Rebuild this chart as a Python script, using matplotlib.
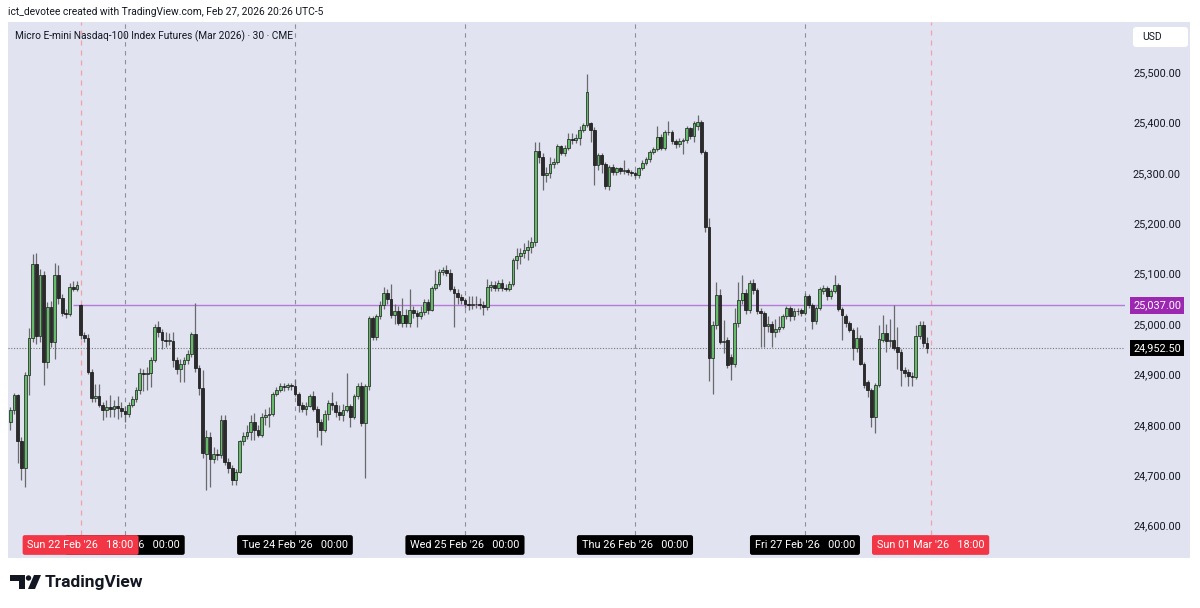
import numpy as np
import matplotlib
matplotlib.use("Agg")
import matplotlib.pyplot as plt
from matplotlib.patches import Rectangle, FancyBboxPatch, Polygon, Circle
from matplotlib.ticker import FuncFormatter

plt.rcParams['font.family'] = ['Roboto', 'DejaVu Sans']

# 30 min bars, Fri 20 Feb 07:30 -> Fri 27 Feb 16:30
opens = [
    24806, 24829, 24859, 24768, 24714, 24899, 24972, 25119, 24976, 25097,
    24925, 25034, 24965, 25097, 25052, 25022, 25020, 25073, 25070, 25038,
    24978, 24972, 24905, 24853, 24858, 24839, 24829, 24835, 24832, 24838,
    24833, 24828, 24822, 24840, 24852, 24870, 24903, 24900, 24902, 24929,
    24994, 24985, 24968, 24966, 24967, 24929, 24910, 24920, 24929, 24940,
    24980, 24913, 24873, 24743, 24776, 24733, 24743, 24740, 24810, 24727,
    24714, 24690, 24707, 24767, 24777, 24786, 24806, 24790, 24780, 24816,
    24820, 24822, 24862, 24869, 24877, 24874, 24878, 24877, 24862, 24840,
    24832, 24838, 24858, 24832, 24806, 24790, 24822, 24844, 24840, 24825,
    24820, 24830, 24837, 24816, 24857, 24877, 24803, 24876, 25011, 24975,
    25015, 25038, 25061, 25050, 25018, 25026, 25002, 25018, 25002, 25028,
    25022, 25016, 25024, 25044, 25028, 25071, 25079, 25104, 25107, 25102,
    25069, 25062, 25054, 25048, 25040, 25038, 25040, 25039, 25037, 25034,
    25074, 25078, 25072, 25082, 25071, 25070, 25080, 25126, 25135, 25140,
    25146, 25152, 25162, 25344, 25332, 25296, 25299, 25317, 25322, 25353,
    25340, 25350, 25368, 25366, 25370, 25384, 25395, 25398, 25385, 25315,
    25335, 25318, 25274, 25312, 25302, 25309, 25303, 25306, 25301, 25299,
    25296, 25309, 25320, 25327, 25342, 25347, 25372, 25350, 25381, 25380,
    25364, 25357, 25364, 25365, 25388, 25373, 25392, 25400, 25342, 25193,
    24932, 24998, 25058, 24965, 24968, 24935, 24920, 25001, 25048, 25062,
    25028, 25082, 25067, 25026, 25021, 24996, 25000, 24985, 24991, 24995,
    25015, 25031, 25015, 25025, 25028, 25022, 25056, 25038, 25005, 25031,
    25066, 25071, 25056, 25066, 25077, 25029, 25016, 25001, 24989, 24952,
    24973, 24921, 24884, 24869, 24815, 24879, 24968, 24983, 24967, 24968,
    24954, 24945, 24909, 24905, 24896, 24894, 24976, 24998, 24962,
]
highs = [
    24835, 24864, 24862, 24775, 24905, 24992, 25139, 25141, 25110, 25105,
    25044, 25046, 25121, 25117, 25060, 25030, 25082, 25085, 25085, 25040,
    24985, 24980, 24910, 24880, 24880, 24845, 24850, 24860, 24850, 24858,
    24845, 24838, 24845, 24858, 24875, 24912, 24910, 24915, 24935, 25000,
    25005, 24990, 24985, 24982, 24985, 24935, 24930, 24935, 24948, 24985,
    25042, 24918, 24909, 24790, 24785, 24755, 24752, 24819, 24820, 24735,
    24720, 24712, 24770, 24785, 24800, 24819, 24823, 24800, 24823, 24832,
    24835, 24866, 24875, 24882, 24882, 24882, 24882, 24890, 24865, 24845,
    24845, 24862, 24868, 24838, 24812, 24830, 24850, 24866, 24848, 24840,
    24842, 24902, 24842, 24862, 24882, 24885, 24880, 25015, 25015, 25020,
    25045, 25074, 25070, 25079, 25040, 25035, 25051, 25030, 25070, 25035,
    25028, 25035, 25050, 25050, 25075, 25107, 25110, 25113, 25117, 25110,
    25075, 25070, 25060, 25052, 25055, 25055, 25055, 25052, 25045, 25090,
    25085, 25085, 25088, 25090, 25080, 25085, 25130, 25150, 25150, 25160,
    25166, 25172, 25362, 25362, 25340, 25312, 25332, 25330, 25358, 25356,
    25355, 25378, 25378, 25377, 25392, 25398, 25496, 25400, 25390, 25339,
    25340, 25322, 25316, 25318, 25312, 25312, 25325, 25310, 25306, 25304,
    25312, 25325, 25332, 25345, 25352, 25393, 25376, 25385, 25403, 25384,
    25368, 25370, 25370, 25392, 25390, 25402, 25415, 25405, 25346, 25210,
    25005, 25084, 25070, 25008, 24975, 24940, 25031, 25084, 25097, 25070,
    25087, 25090, 25072, 25032, 25026, 25015, 25005, 25010, 25015, 25020,
    25036, 25036, 25032, 25032, 25032, 25061, 25060, 25042, 25035, 25073,
    25077, 25075, 25070, 25097, 25082, 25033, 25020, 25005, 24992, 24995,
    24978, 24925, 24888, 24872, 24882, 24998, 25018, 25000, 25010, 25038,
    24995, 24950, 24915, 24910, 24905, 24998, 25005, 25005, 24975,
]
lows = [
    24790, 24822, 24724, 24690, 24677, 24860, 24965, 24960, 24965, 24879,
    24912, 24955, 24930, 25040, 25015, 25012, 25015, 25065, 25066, 24970,
    24965, 24900, 24845, 24845, 24835, 24810, 24815, 24815, 24815, 24812,
    24815, 24806, 24815, 24835, 24845, 24862, 24868, 24870, 24875, 24925,
    24975, 24950, 24955, 24958, 24915, 24900, 24885, 24885, 24920, 24935,
    24905, 24859, 24735, 24671, 24677, 24725, 24730, 24735, 24720, 24705,
    24680, 24680, 24705, 24760, 24772, 24770, 24770, 24775, 24775, 24800,
    24795, 24818, 24858, 24865, 24868, 24870, 24870, 24858, 24826, 24826,
    24820, 24835, 24828, 24776, 24760, 24785, 24810, 24830, 24815, 24810,
    24807, 24825, 24796, 24812, 24852, 24798, 24694, 24870, 24968, 24968,
    25010, 25030, 25040, 25012, 25000, 24998, 24995, 24995, 24995, 25012,
    24995, 25010, 25018, 25020, 25025, 25068, 25075, 25098, 25095, 25065,
    24995, 25040, 25040, 25032, 25028, 25030, 25032, 25030, 25018, 25028,
    25065, 25065, 25066, 25066, 25065, 25066, 25075, 25110, 25120, 25130,
    25127, 25140, 25155, 25320, 25266, 25282, 25290, 25310, 25318, 25335,
    25333, 25345, 25358, 25360, 25355, 25380, 25390, 25362, 25276, 25305,
    25300, 25268, 25266, 25296, 25295, 25298, 25298, 25296, 25293, 25290,
    25290, 25305, 25316, 25322, 25338, 25344, 25345, 25346, 25374, 25358,
    25350, 25352, 25338, 25360, 25368, 25362, 25385, 25338, 25183, 24886,
    24862, 24990, 24960, 24942, 24912, 24889, 24915, 24995, 25040, 25020,
    25022, 25060, 25020, 24955, 24955, 24985, 24955, 24975, 24985, 24990,
    25010, 25005, 25008, 25018, 25015, 25018, 25032, 24991, 25000, 25028,
    25060, 25048, 25050, 25062, 25025, 24968, 24995, 24985, 24929, 24945,
    24918, 24872, 24856, 24796, 24783, 24875, 24964, 24945, 24955, 24948,
    24910, 24876, 24895, 24876, 24876, 24890, 24970, 24955, 24942,
]
closes = [
    24829, 24859, 24768, 24714, 24899, 24972, 25119, 24976, 25097, 24925,
    25034, 24965, 25097, 25052, 25022, 25020, 25073, 25070, 25078, 24978,
    24972, 24905, 24853, 24858, 24839, 24829, 24835, 24832, 24838, 24833,
    24828, 24822, 24840, 24852, 24870, 24903, 24900, 24902, 24929, 24994,
    24985, 24968, 24966, 24967, 24929, 24910, 24920, 24929, 24940, 24980,
    24913, 24873, 24744, 24776, 24733, 24743, 24740, 24810, 24727, 24714,
    24690, 24707, 24767, 24777, 24786, 24806, 24790, 24780, 24816, 24820,
    24822, 24862, 24869, 24877, 24874, 24878, 24876, 24862, 24840, 24832,
    24838, 24858, 24832, 24806, 24790, 24822, 24844, 24840, 24825, 24820,
    24830, 24837, 24816, 24857, 24877, 24803, 24876, 25011, 24975, 25015,
    25038, 25061, 25050, 25018, 25026, 25002, 25018, 25002, 25028, 25022,
    25016, 25024, 25044, 25028, 25071, 25079, 25104, 25107, 25102, 25069,
    25062, 25054, 25048, 25040, 25038, 25040, 25039, 25037, 25034, 25074,
    25078, 25072, 25082, 25071, 25070, 25080, 25126, 25135, 25140, 25146,
    25152, 25162, 25344, 25332, 25296, 25299, 25317, 25322, 25353, 25340,
    25350, 25368, 25366, 25370, 25384, 25395, 25461, 25385, 25315, 25335,
    25318, 25274, 25312, 25302, 25309, 25303, 25306, 25301, 25299, 25296,
    25309, 25320, 25327, 25342, 25347, 25372, 25350, 25381, 25380, 25364,
    25357, 25364, 25365, 25388, 25373, 25398, 25400, 25342, 25193, 24932,
    24998, 25058, 24965, 24967, 24919, 24920, 25001, 25048, 25062, 25028,
    25082, 25067, 25026, 25021, 24996, 25000, 24985, 24991, 24995, 25015,
    25031, 25015, 25025, 25026, 25022, 25056, 25038, 25005, 25031, 25069,
    25071, 25056, 25066, 25077, 25029, 25018, 25001, 24989, 24952, 24973,
    24921, 24879, 24869, 24815, 24879, 24970, 24983, 24967, 24968, 24952,
    24945, 24909, 24902, 24896, 24894, 24976, 24998, 24962, 24952.5,
]

# bar index of midnight sessions and of the Sunday reopen markers
day_idx = [31, 77, 123, 169, 215]
day_labels = ["Mon 23 Feb '26   00:00", "Tue 24 Feb '26   00:00",
              "Wed 25 Feb '26   00:00", "Thu 26 Feb '26   00:00",
              "Fri 27 Feb '26   00:00"]
session_idx = [19, 249]
session_labels = ["Sun 22 Feb '26   18:00", "Sun 01 Mar '26   18:00"]
price_ticks = [24600, 24700, 24800, 24900, 25000, 25100, 25200, 25300, 25400, 25500]
level_price = 25037.0
level_start = 16.9
last_price = 24952.5

BG = '#e1e3f1'
TXT = '#131722'
UP = '#66bb6a'
DOWN = '#2b2b2b'

o = np.array(opens, float)
h = np.array(highs, float)
l = np.array(lows, float)
c = np.array(closes, float)
x = np.arange(len(c))

fig = plt.figure(figsize=(12, 6.08), dpi=100)
fig.patch.set_facecolor('white')

# background layer in pixel coordinates
bg = fig.add_axes([0, 0, 1, 1], zorder=0)
bg.set_xlim(0, 1200)
bg.set_ylim(608, 0)
bg.axis('off')
bg.add_patch(Rectangle((8, 22), 1182, 536, fc=BG, ec='none'))
bg.add_patch(FancyBboxPatch((1133, 27), 55, 20, boxstyle='round,pad=0,rounding_size=3',
                            fc='white', ec='none'))
bg.text(1142, 37.5, 'USD', fontsize=7.5, color=TXT, va='center')
bg.text(8, 12, 'ict_devotee created with TradingView.com, Feb 27, 2026 20:26 UTC-5',
        fontsize=7.4, color=TXT, va='center')
bg.text(15, 36, 'Micro E-mini Nasdaq-100 Index Futures (Mar 2026) \u00b7 30 \u00b7 CME',
        fontsize=7.3, color=TXT, va='center')

# TradingView logo
bg.add_patch(Polygon([(10, 575), (25, 575), (25, 589), (19, 589), (19, 580.5), (10, 580.5)],
                     closed=True, fc=TXT, ec='none'))
bg.add_patch(Circle((28.5, 578), 2.7, fc=TXT, ec='none'))
bg.add_patch(Polygon([(34, 575), (41, 575), (35, 589), (28, 589)], closed=True, fc=TXT, ec='none'))
bg.text(45, 582, 'TradingView', fontsize=12.5, fontweight='bold', color=TXT, va='center')

# main price pane
ax = fig.add_axes([8 / 1200, (608 - 535) / 608, 1117 / 1200, 513 / 608], zorder=1)
ax.set_facecolor('none')
for s in ax.spines.values():
    s.set_visible(False)
ax.set_xlim(-0.65, 301.6)
ax.set_ylim(24581.3, 25599.2)

for xi in day_idx:
    ax.axvline(xi, color='#8c8f9c', lw=0.8, ls=(0, (4, 4)), zorder=1)
for xi in session_idx:
    ax.axvline(xi, color='#f2a0ab', lw=0.9, ls=(0, (4, 4)), zorder=1)

ax.hlines(level_price, level_start, 301.6, color='#b57bd8', lw=1.0, zorder=1.5)
ax.axhline(last_price, color='#777777', lw=0.8, ls=(0, (1, 1.5)), zorder=1.5)

up = c >= o
bottom = np.minimum(o, c)
height = np.maximum(np.abs(c - o), 1.5)
ax.vlines(x, l, h, color='#6a6a6a', lw=0.9, zorder=2)
ax.bar(x[up], height[up], bottom=bottom[up], width=0.74, color=UP,
       edgecolor='#1a1a1a', lw=0.5, zorder=3)
ax.bar(x[~up], height[~up], bottom=bottom[~up], width=0.74, color=DOWN,
       edgecolor='#111111', lw=0.5, zorder=3)

# price scale on the right
ax.set_xticks([])
ax.set_yticks(price_ticks)
ax.yaxis.set_major_formatter(FuncFormatter(lambda v, p: f"{v:,.2f}"))
ax.yaxis.tick_right()
ax.tick_params(axis='y', length=0, pad=40.3, labelsize=7.8, labelcolor=TXT)
for lab in ax.get_yticklabels():
    lab.set_horizontalalignment('right')

ytr = ax.get_yaxis_transform()
lx = (1181 - 8) / 1117
ax.text(lx, level_price, f"{level_price:,.2f}", transform=ytr, ha='right', va='center',
        fontsize=7.8, color='white', clip_on=False, zorder=5,
        bbox=dict(boxstyle='square,pad=0.3', fc='#9c27b0', ec='none'))
ax.text(lx, last_price, f"{last_price:,.2f}", transform=ytr, ha='right', va='center',
        fontsize=7.8, color='white', clip_on=False, zorder=5,
        bbox=dict(boxstyle='square,pad=0.3', fc='black', ec='none'))

# time scale labels (the red session marker sits on top of the Monday label)
xtr = ax.get_xaxis_transform()
ty = -(545 - 535) / 513
for xi, lab in zip(day_idx, day_labels):
    ax.text(xi, ty, lab, transform=xtr, ha='center', va='center', fontsize=7.8,
            color='white', clip_on=False, zorder=5,
            bbox=dict(boxstyle='round,pad=0.45,rounding_size=0.2', fc='black', ec='none'))
for xi, lab in zip(session_idx, session_labels):
    ax.text(xi, ty, lab, transform=xtr, ha='center', va='center', fontsize=7.8,
            color='white', clip_on=False, zorder=6,
            bbox=dict(boxstyle='round,pad=0.45,rounding_size=0.2', fc='#f23645', ec='none'))

fig.savefig('out.png', dpi=100, facecolor='white')
